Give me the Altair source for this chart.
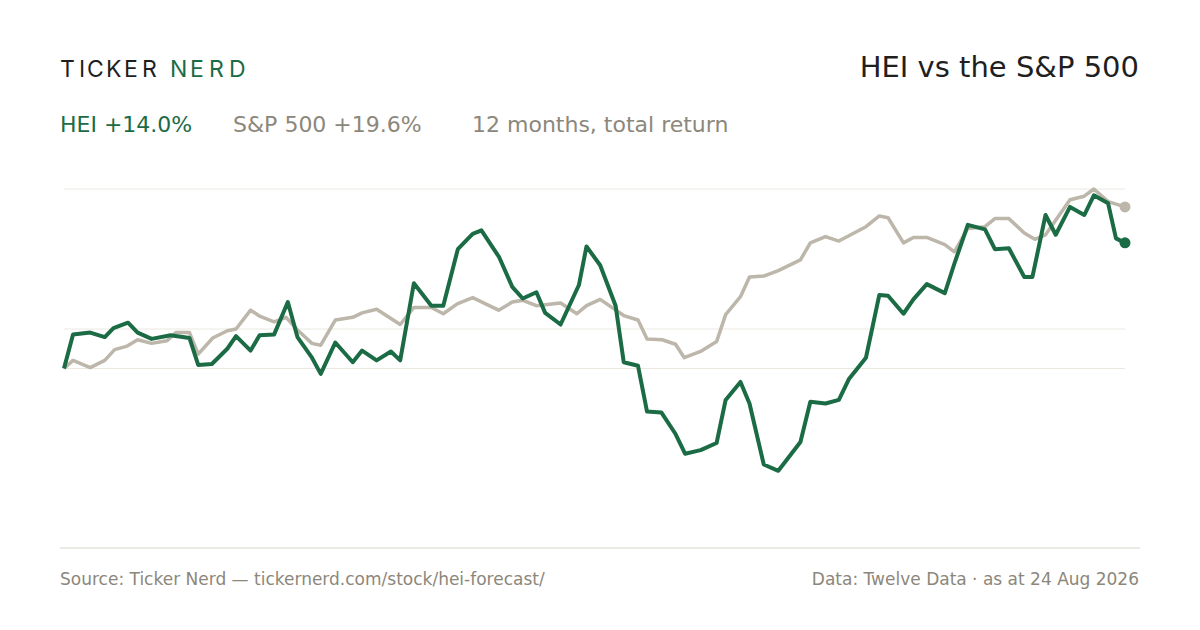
import altair as alt
import pandas as pd

# ── data: day offset within the 12 months, cumulative total return (%) ──
hei_day = [0, 3.1, 9.0, 14.0, 17.0, 22.0, 25.3, 30.1, 36.6, 43.1, 46.1, 50.8, 56.1, 59.1,
           64.1, 67.2, 72.2, 76.9, 80.2, 85.0, 88.2, 93.2, 99.2, 102.4, 107.4, 112.3, 115.5,
           120.2, 126.2, 130.3, 135.3, 140.4, 143.4, 149.5, 154.0, 157.6, 162.3, 165.3, 170.6,
           176.9, 179.5, 184.2, 189.5, 192.3, 197.2, 200.3, 205.2, 210.1, 213.4, 218.7, 224.2,
           227.3, 232.4, 235.5, 240.4, 245.4, 253.0, 256.4, 261.6, 266.2, 269.6, 275.5, 280.1,
           283.1, 288.4, 291.8, 296.4, 302.6, 305.9, 310.5, 316.4, 319.8, 324.6, 329.9, 332.7,
           337.2, 340.7, 345.6, 350.5, 353.8, 358.7, 361.4, 364.5]
hei_ret = [0.0, 3.8, 4.0, 3.5, 4.5, 5.1, 4.0, 3.3, 3.7, 3.4, 0.4, 0.5, 2.2, 3.6,
           2.0, 3.7, 3.8, 7.4, 3.5, 1.3, -0.6, 2.9, 0.7, 2.0, 0.9, 1.9, 0.9,
           9.5, 7.0, 7.0, 13.3, 15.0, 15.4, 12.4, 9.1, 7.8, 8.5, 6.2, 4.9,
           9.3, 13.6, 11.5, 7.0, 0.7, 0.3, -4.8, -4.9, -7.3, -9.5, -9.1, -8.3,
           -3.5, -1.5, -3.9, -10.7, -11.4, -8.2, -3.7, -3.9, -3.5, -1.2, 1.2, 8.2,
           8.1, 6.1, 7.7, 9.4, 8.4, 11.7, 16.0, 15.5, 13.3, 13.4, 10.2, 10.2,
           17.1, 14.9, 18.0, 17.1, 19.3, 18.4, 14.5, 14.0]

spx_day = [0, 3.1, 9.0, 14.0, 17.4, 21.7, 25.3, 30.1, 35.4, 38.4, 43.1, 46.1, 51.1, 56.1,
           59.1, 64.1, 67.4, 72.2, 76.3, 80.5, 85.2, 88.2, 93.2, 99.2, 102.4, 107.4, 115.5,
           120.2, 126.2, 130.3, 135.1, 140.4, 149.3, 154.0, 157.6, 162.3, 170.6, 176.2, 179.5,
           184.2, 192.3, 197.2, 200.3, 205.5, 210.1, 213.1, 218.7, 224.2, 227.3, 232.4, 235.5,
           240.4, 245.4, 253.0, 256.4, 261.6, 266.2, 275.5, 280.1, 283.1, 288.4, 291.8, 296.4,
           302.6, 305.9, 310.5, 316.4, 319.8, 324.6, 329.9, 333.5, 337.2, 345.6, 350.5, 353.8,
           358.7, 364.5]
spx_ret = [0.0, 0.9, 0.1, 0.9, 2.1, 2.5, 3.2, 2.8, 3.1, 4.0, 4.0, 1.6, 3.4, 4.2,
           4.4, 6.5, 5.8, 5.2, 5.7, 4.2, 2.8, 2.6, 5.4, 5.7, 6.2, 6.6, 4.9,
           6.8, 6.8, 6.1, 7.2, 7.9, 6.5, 7.4, 7.6, 7.0, 7.3, 6.1, 7.0,
           7.7, 5.9, 5.4, 3.3, 3.2, 2.7, 1.2, 1.9, 3.0, 6.0, 8.0, 10.2,
           10.3, 10.9, 12.1, 14.0, 14.7, 14.2, 15.8, 17.0, 16.8, 14.0, 14.6, 14.6,
           13.8, 13.0, 15.6, 15.8, 16.7, 16.7, 15.1, 14.4, 14.9, 18.8, 19.2, 20.0,
           18.6, 18.0]

grid_vals = [20.0, 4.4, 0.0]

GREEN = "#1b6b45"
GREY = "#bdb6aa"
TEXT_GREY = "#8c877b"
FONT = "DejaVu Sans"

hei = pd.DataFrame({"day": hei_day, "ret": hei_ret})
spx = pd.DataFrame({"day": spx_day, "ret": spx_ret})

x = alt.X("day:Q", scale=alt.Scale(domain=[0, 364.5], nice=False, zero=False), axis=None)
y = alt.Y("ret:Q", scale=alt.Scale(domain=[-20, 20], nice=False, zero=False), axis=None)

grid = alt.Chart(pd.DataFrame({"g": grid_vals})).mark_rule(color="#ece8e0", strokeWidth=1).encode(
    y=alt.Y("g:Q", scale=alt.Scale(domain=[-20, 20], nice=False), axis=None)
)
baseline = alt.Chart(pd.DataFrame({"g": [-20]})).mark_rule(color="#d9d4ca", strokeWidth=1).encode(
    y=alt.Y("g:Q", scale=alt.Scale(domain=[-20, 20], nice=False), axis=None),
    x=alt.value(-4), x2=alt.value(1076),
)

spx_line = alt.Chart(spx).mark_line(color=GREY, strokeWidth=3.5, strokeJoin="round").encode(x=x, y=y)
hei_line = alt.Chart(hei).mark_line(color=GREEN, strokeWidth=4, strokeJoin="round").encode(x=x, y=y)
spx_dot = alt.Chart(spx.tail(1)).mark_circle(color=GREY, size=120, opacity=1).encode(x=x, y=y)
hei_dot = alt.Chart(hei.tail(1)).mark_circle(color=GREEN, size=120, opacity=1).encode(x=x, y=y)


def label(text, px, py, size, color, align="left", font=FONT):
    # px, py are page coordinates; plot area starts at (64, 189)
    return alt.Chart(pd.DataFrame({"t": [text]})).mark_text(
        align=align, baseline="middle", fontSize=size, color=color, font=font
    ).encode(text="t:N", x=alt.value(px - 64), y=alt.value(py - 189))


# brand, letter by letter for the wide tracking
brand_letters = list("TICKER") + list("NERD")
brand_x = [60, 79, 87, 106, 124, 142, 170, 190, 209, 229]
brand = [
    label(ch, bx, 70, 23, "#1f1f1f" if i < 6 else GREEN, font="Inter")
    for i, (ch, bx) in enumerate(zip(brand_letters, brand_x))
]

texts = brand + [
    label("HEI vs the S&P 500", 1139, 68, 29, "#1f1f1f", align="right"),
    label("HEI +14.0%", 60, 125, 22, GREEN),
    label("S&P 500 +19.6%", 233, 125, 22, TEXT_GREY),
    label("12 months, total return", 472, 125, 22, TEXT_GREY),
    label("Source: Ticker Nerd \u2014 tickernerd.com/stock/hei-forecast/", 60, 580, 17, TEXT_GREY),
    label("Data: Twelve Data \u00b7 as at 24 Aug 2026", 1139, 580, 17, TEXT_GREY, align="right"),
]

chart = alt.layer(grid, baseline, spx_line, hei_line, spx_dot, hei_dot, *texts).properties(
    width=1061,
    height=359,
    autosize=alt.AutoSizeParams(type="none"),
    padding={"left": 56, "top": 181, "right": 67, "bottom": 74},
    background="white",
).configure_view(stroke=None)

chart.save("out.html", embed_options={"renderer": "svg", "actions": False})
